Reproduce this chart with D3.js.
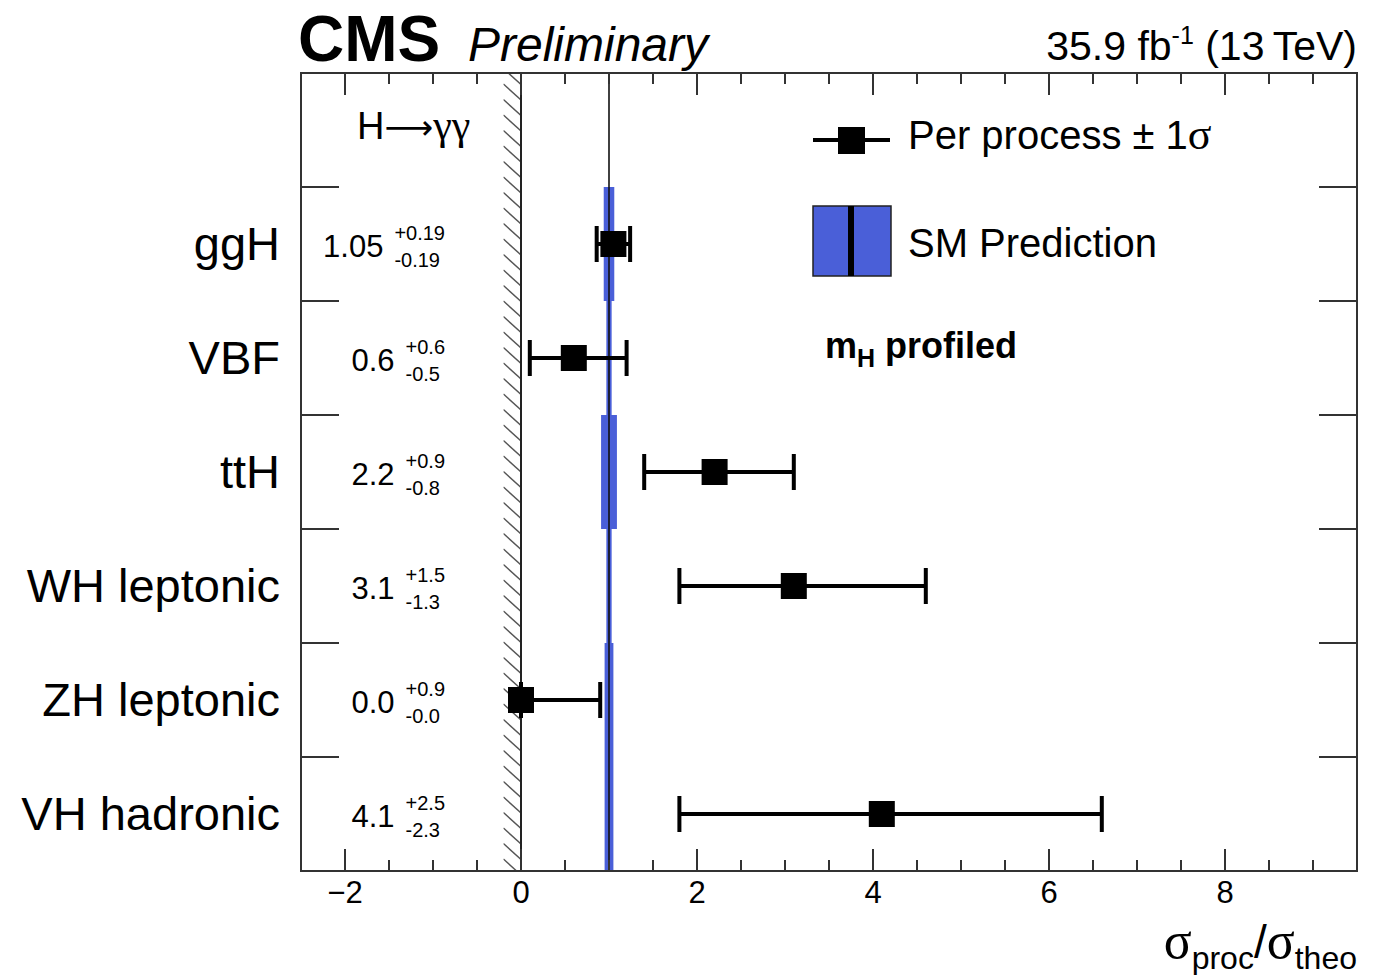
<!DOCTYPE html>
<html>
<head>
<meta charset="utf-8">
<script src="https://cdn.jsdelivr.net/npm/d3@7"></script>
<style>
  html, body { margin: 0; padding: 0; background: #fff; }
  svg { display: block; font-family: "Liberation Sans", Arial, Helvetica, sans-serif; }
  .greek { font-family: "Liberation Serif", "Times New Roman", serif; }
</style>
</head>
<body>
<svg id="chart" width="1378" height="975"></svg>
<script>
// Signal strength per production process, H -> gamma gamma
const categories = ["ggH", "VBF", "ttH", "WH leptonic", "ZH leptonic", "VH hadronic"];
const bestFit    = [1.05, 0.6, 2.2, 3.1, 0.0, 4.1];
const errUp      = [0.19, 0.6, 0.9, 1.5, 0.9, 2.5];
const errDown    = [0.19, 0.5, 0.8, 1.3, 0.0, 2.3];
const decimals   = [2, 1, 1, 1, 1, 1];
// Theory uncertainty on the SM expectation (half-width of the band)
const smUnc      = [0.06, 0.03, 0.09, 0.03, 0.05, 0.05];
const smValue    = 1;
const majorTicks = [-2, 0, 2, 4, 6, 8];
const minorTicks = d3.range(-2, 9.51, 0.5).filter(v => v % 2 !== 0);

const svg = d3.select("#chart");
const pLeft = 301, pRight = 1357, pTop = 73, pBottom = 871;
const rowH = (pBottom - pTop) / (categories.length + 1);

const x = d3.scaleLinear().domain([-2.5, 9.5]).range([pLeft, pRight]);
const y = d3.scaleBand().domain(categories).range([pTop + rowH, pBottom]).padding(0);
const yc = c => y(c) + y.bandwidth() / 2;

const rows = categories.map((c, i) => ({
  cat: c, val: bestFit[i], up: errUp[i], dn: errDown[i], dec: decimals[i], sm: smUnc[i]
}));

// Hatched excluded region (negative cross sections)
const defs = svg.append("defs");
defs.append("clipPath").attr("id", "hatchClip")
  .append("rect")
  .attr("x", x(-0.2)).attr("y", pTop)
  .attr("width", x(0) - x(-0.2)).attr("height", pBottom - pTop);
const hatch = svg.append("g").attr("clip-path", "url(#hatchClip)");
for (let yy = pTop - 20; yy < pBottom + 20; yy += 15.5) {
  hatch.append("line")
    .attr("x1", x(-0.2)).attr("y1", yy)
    .attr("x2", x(0)).attr("y2", yy + 16)
    .attr("stroke", "#555").attr("stroke-width", 1.4);
}

// SM bands per process
svg.append("g").selectAll("rect").data(rows).join("rect")
  .attr("x", d => x(smValue - d.sm))
  .attr("width", d => x(smValue + d.sm) - x(smValue - d.sm))
  .attr("y", d => y(d.cat))
  .attr("height", y.bandwidth())
  .attr("fill", "#4a5fd8");

// SM line and zero line
svg.append("line")
  .attr("x1", x(smValue)).attr("x2", x(smValue))
  .attr("y1", pTop).attr("y2", pBottom)
  .attr("stroke", "#111").attr("stroke-width", 1.6);
svg.append("line")
  .attr("x1", x(0)).attr("x2", x(0))
  .attr("y1", pTop).attr("y2", pBottom)
  .attr("stroke", "#222").attr("stroke-width", 2);

// Error bars with caps and markers
const pts = svg.append("g");
pts.selectAll("line.bar").data(rows).join("line")
  .attr("class", "bar")
  .attr("x1", d => x(d.val - d.dn)).attr("x2", d => x(d.val + d.up))
  .attr("y1", d => yc(d.cat)).attr("y2", d => yc(d.cat))
  .attr("stroke", "#000").attr("stroke-width", 4);
["lo", "hi"].forEach(side => {
  pts.selectAll("rect.cap-" + side).data(rows).join("rect")
    .attr("class", "cap-" + side)
    .attr("x", d => x(side === "lo" ? d.val - d.dn : d.val + d.up) - 2)
    .attr("width", 4)
    .attr("y", d => yc(d.cat) - 18)
    .attr("height", 36)
    .attr("fill", "#000");
});
pts.selectAll("rect.marker").data(rows).join("rect")
  .attr("class", "marker")
  .attr("x", d => x(d.val) - 13).attr("y", d => yc(d.cat) - 13)
  .attr("width", 26).attr("height", 26)
  .attr("fill", "#000");

// Frame
svg.append("rect")
  .attr("x", pLeft).attr("y", pTop)
  .attr("width", pRight - pLeft).attr("height", pBottom - pTop)
  .attr("fill", "none").attr("stroke", "#333").attr("stroke-width", 2);

// X ticks, top and bottom
const ticks = svg.append("g").attr("stroke", "#333").attr("stroke-width", 2);
majorTicks.forEach(v => {
  ticks.append("line").attr("x1", x(v)).attr("x2", x(v)).attr("y1", pBottom).attr("y2", pBottom - 22);
  ticks.append("line").attr("x1", x(v)).attr("x2", x(v)).attr("y1", pTop).attr("y2", pTop + 22);
});
minorTicks.forEach(v => {
  ticks.append("line").attr("x1", x(v)).attr("x2", x(v)).attr("y1", pBottom).attr("y2", pBottom - 11);
  ticks.append("line").attr("x1", x(v)).attr("x2", x(v)).attr("y1", pTop).attr("y2", pTop + 11);
});
// Row separators on both sides
categories.forEach(c => {
  ticks.append("line").attr("x1", pLeft).attr("x2", pLeft + 38).attr("y1", y(c)).attr("y2", y(c));
  ticks.append("line").attr("x1", pRight).attr("x2", pRight - 38).attr("y1", y(c)).attr("y2", y(c));
});

// X tick labels
svg.append("g").selectAll("text").data(majorTicks).join("text")
  .attr("x", d => x(d)).attr("y", pBottom + 32)
  .attr("text-anchor", "middle")
  .attr("font-size", 31)
  .text(d => d < 0 ? "\u2212" + Math.abs(d) : d);

// Category labels
svg.append("g").selectAll("text").data(rows).join("text")
  .attr("x", 280).attr("y", d => yc(d.cat) + 16)
  .attr("text-anchor", "end")
  .attr("font-size", 47)
  .text(d => d.cat);

// Fitted value labels, right-aligned block with sup/sub uncertainties
const valG = svg.append("g");
rows.forEach(d => {
  const cy = yc(d.cat);
  const fmt = d3.format("." + d.dec + "f");
  const sup = valG.append("text").attr("font-size", 20).attr("y", cy - 4).text("+" + fmt(d.up));
  const sub = valG.append("text").attr("font-size", 20).attr("y", cy + 23).text("-" + fmt(d.dn));
  const w = Math.max(sup.node().getComputedTextLength(), sub.node().getComputedTextLength());
  const sx = 445 - w;
  sup.attr("x", sx); sub.attr("x", sx);
  valG.append("text").attr("font-size", 31).attr("x", sx - 11).attr("y", cy + 13)
    .attr("text-anchor", "end").text(fmt(d.val));
});

// Header texts
svg.append("text").attr("x", 298).attr("y", 61)
  .attr("font-size", 64).attr("font-weight", "bold").text("CMS");
svg.append("text").attr("x", 468).attr("y", 61)
  .attr("font-size", 48).attr("font-style", "italic").text("Preliminary");
const lumi = svg.append("text").attr("x", pRight).attr("y", 60)
  .attr("text-anchor", "end").attr("font-size", 41);
lumi.append("tspan").text("35.9 fb");
lumi.append("tspan").attr("font-size", 25).attr("dy", -16).text("-1");
lumi.append("tspan").attr("dy", 16).text(" (13\u2009TeV)");

const decay = svg.append("text").attr("x", 357).attr("y", 139).attr("font-size", 38);
decay.append("tspan").text("H");
decay.append("tspan").attr("font-family", "DejaVu Sans").attr("font-size", 34).text("\u27f6");
decay.append("tspan").attr("class", "greek").attr("font-size", 42).text("\u03b3\u03b3");

// Legend
const lg = svg.append("g");
lg.append("line").attr("x1", 813).attr("x2", 890).attr("y1", 140).attr("y2", 140)
  .attr("stroke", "#000").attr("stroke-width", 4);
lg.append("rect").attr("x", 838).attr("y", 127).attr("width", 27).attr("height", 27).attr("fill", "#000");
const lt = lg.append("text").attr("x", 908).attr("y", 149).attr("font-size", 40);
lt.append("tspan").text("Per process \u00b1 1");
lt.append("tspan").attr("class", "greek").attr("font-size", 44).text("\u03c3");
lg.append("rect").attr("x", 813).attr("y", 206).attr("width", 78).attr("height", 70)
  .attr("fill", "#4a5fd8").attr("stroke", "#222").attr("stroke-width", 1.5);
lg.append("rect").attr("x", 848).attr("y", 206).attr("width", 6).attr("height", 70).attr("fill", "#000");
lg.append("text").attr("x", 908).attr("y", 257).attr("font-size", 40).text("SM Prediction");
const mh = lg.append("text").attr("x", 825).attr("y", 358)
  .attr("font-size", 36).attr("font-weight", "bold");
mh.append("tspan").text("m");
mh.append("tspan").attr("font-size", 25).attr("dy", 9).text("H");
mh.append("tspan").attr("dy", -9).text(" profiled");

// X axis title
const xt = svg.append("text").attr("x", pRight).attr("y", 958)
  .attr("text-anchor", "end").attr("font-size", 46);
xt.append("tspan").attr("class", "greek").attr("font-size", 52).text("\u03c3");
xt.append("tspan").attr("font-size", 32).attr("dy", 11).text("proc");
xt.append("tspan").attr("dy", -11).text("/");
xt.append("tspan").attr("class", "greek").attr("font-size", 52).text("\u03c3");
xt.append("tspan").attr("font-size", 32).attr("dy", 11).text("theo");
</script>
</body>
</html>
